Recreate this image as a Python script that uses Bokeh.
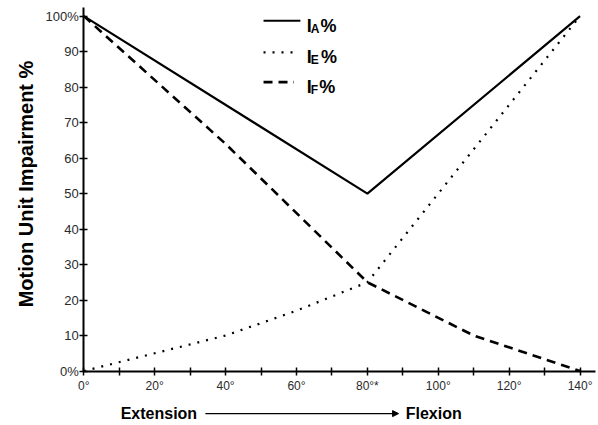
import math
from bokeh.plotting import figure
from bokeh.models import Range1d, FixedTicker, Label, Arrow, NormalHead
from bokeh.embed import file_html
from bokeh.resources import INLINE

# ---- data ----
x_ticks = [0, 10, 20, 30, 40, 50, 60, 70, 80, 90, 100, 110, 120, 130, 140]
x_tick_labels = ["0°", "", "20°", "", "40°", "", "60°", "", "80°*", "", "100°", "", "120°", "", "140°"]
y_ticks = [0, 10, 20, 30, 40, 50, 60, 70, 80, 90, 100]
y_tick_labels = ["0%", "10", "20", "30", "40", "50", "60", "70", "80", "90", "100%"]

ia_x = [0, 80, 140]
ia_y = [100, 50, 100]
ie_x = [0, 20, 40, 60, 80, 140]
ie_y = [0, 5, 10, 17, 25, 100]
if_x = [0, 40, 80, 110, 140]
if_y = [100, 64, 25, 10, 0]

FONT = "Liberation Sans"

# the frame covers the whole canvas; axes are pinned at 0 so titles stay inside the frame
p = figure(width=598, height=425, x_range=Range1d(-23.5, 145.2), y_range=Range1d(-15.35, 104.4),
           output_backend="svg", toolbar_location=None,
           min_border_left=0, min_border_right=0, min_border_top=0, min_border_bottom=0)
p.outline_line_color = None
p.xgrid.grid_line_color = None
p.ygrid.grid_line_color = None
p.background_fill_color = "white"
p.border_fill_color = "white"

for ax in (p.xaxis[0], p.yaxis[0]):
    ax.axis_line_width = 2
    ax.axis_line_color = "black"
    ax.major_tick_line_color = "black"
    ax.major_tick_line_width = 1.5
    ax.major_tick_in = 4
    ax.major_tick_out = 4
    ax.minor_tick_line_color = None
    ax.major_label_text_font = FONT
    ax.major_label_text_color = "#2a2a2a"

p.xaxis.fixed_location = 0
p.xaxis.bounds = (0, 144.4)
p.xaxis.ticker = FixedTicker(ticks=x_ticks)
p.xaxis.major_label_overrides = {t: l for t, l in zip(x_ticks, x_tick_labels)}
p.xaxis.major_label_text_font_size = "12px"
p.xaxis.major_label_standoff = 4

p.yaxis.fixed_location = 0
p.yaxis.bounds = (0, 102.5)
p.yaxis.ticker = FixedTicker(ticks=y_ticks)
p.yaxis.major_label_overrides = {t: l for t, l in zip(y_ticks, y_tick_labels)}
p.yaxis.major_label_text_font_size = "13px"
p.yaxis.major_label_standoff = 1

# ---- series ----
p.line(ia_x, ia_y, line_color="black", line_width=2.2)
p.line(ie_x, ie_y, line_color="black", line_width=2.2, line_dash="2 7")
p.line(if_x, if_y, line_color="black", line_width=2.6, line_dash="9 6")

# ---- legend (manual, for subscripts) ----
leg_rows = [98.7, 89.8, 81.4]
leg_dash = ["solid", "2 7", "9 6"]
leg_width = [2.2, 2.2, 2.6]
leg_end = [61.1, 59.6, 59.3]
leg_sub = ["A", "E", "F"]
leg_pct_x = [66.8, 66.9, 66.4]
for yr, dash, lw, xe, sub, px in zip(leg_rows, leg_dash, leg_width, leg_end, leg_sub, leg_pct_x):
    p.line([50.7, xe], [yr, yr], line_color="black", line_width=lw, line_dash=dash)
    p.add_layout(Label(x=62.9, y=yr - 1.4, text="I", text_font=FONT, text_font_size="18px",
                       text_font_style="bold", text_color="black", text_baseline="alphabetic"))
    p.add_layout(Label(x=64.0, y=yr - 2.3, text=sub, text_font=FONT, text_font_size="12px",
                       text_font_style="bold", text_color="black", text_baseline="alphabetic"))
    p.add_layout(Label(x=px, y=yr - 1.4, text="%", text_font=FONT, text_font_size="18px",
                       text_font_style="bold", text_color="black", text_baseline="alphabetic"))

# ---- axis titles ----
p.add_layout(Label(x=-16.4, y=52.7, text="Motion Unit Impairment %", angle=math.pi / 2,
                   text_font=FONT, text_font_size="20px", text_font_style="bold",
                   text_color="black", text_align="center", text_baseline="middle"))
yl = -12.0
p.add_layout(Label(x=10.4, y=yl, text="Extension", text_font=FONT, text_font_size="16px",
                   text_font_style="bold", text_color="black", text_align="left",
                   text_baseline="middle"))
p.add_layout(Label(x=90.8, y=yl, text="Flexion", text_font=FONT, text_font_size="16px",
                   text_font_style="bold", text_color="black", text_align="left",
                   text_baseline="middle"))
p.add_layout(Arrow(x_start=34.3, y_start=yl, x_end=88.8, y_end=yl, line_width=1.2,
                   line_color="black",
                   end=NormalHead(size=6, fill_color="black", line_color="black")))

open("out.html", "w").write(file_html(p, INLINE))
